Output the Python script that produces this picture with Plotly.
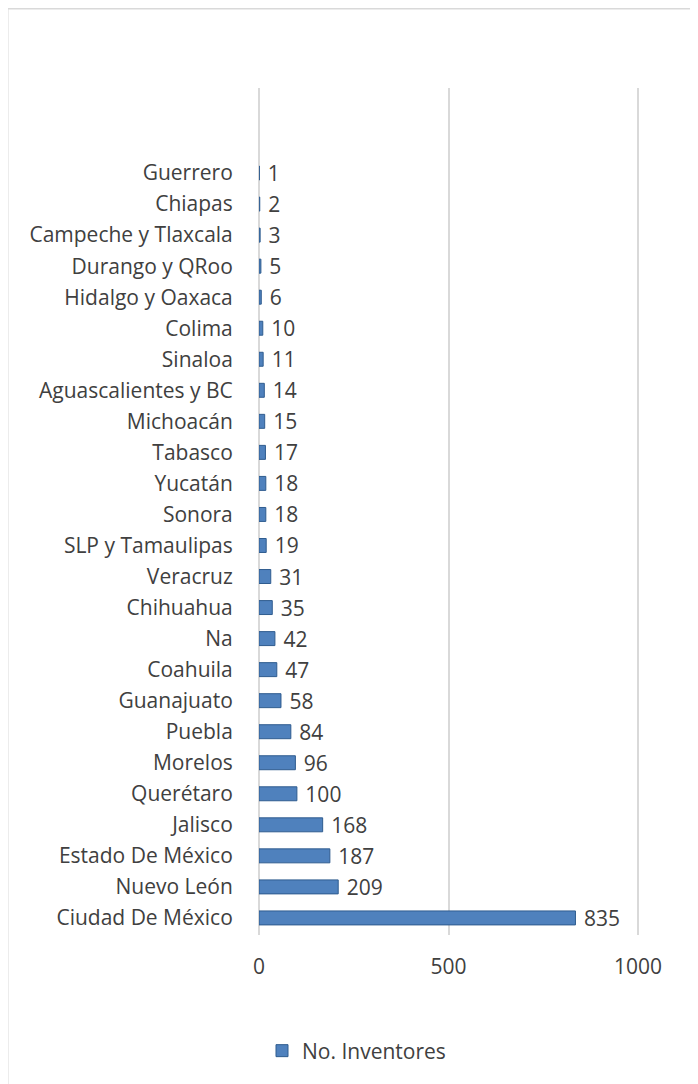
import plotly.graph_objects as go

categories = ["Ciudad De México", "Nuevo León", "Estado De México", "Jalisco", "Querétaro",
              "Morelos", "Puebla", "Guanajuato", "Coahuila", "Na", "Chihuahua", "Veracruz",
              "SLP y Tamaulipas", "Sonora", "Yucatán", "Tabasco", "Michoacán",
              "Aguascalientes y BC", "Sinaloa", "Colima", "Hidalgo y Oaxaca", "Durango y QRoo",
              "Campeche y Tlaxcala", "Chiapas", "Guerrero"]
values = [835, 209, 187, 168, 100, 96, 84, 58, 47, 42, 35, 31, 19, 18, 18, 17, 15, 14, 11, 10, 6, 5, 3, 2, 1]
series_name = "No. Inventores"
x_ticks = [0, 500, 1000]

# page has an 8px body margin: figure coords = page coords - 8
OFF = 8
W, H = 698, 1084
X0_PX, X1000_PX = 259, 638
XMAX = 1020
scale = (X1000_PX - X0_PX) / 1000.0
ml = X0_PX - OFF
mr = int(round(W - (X0_PX + XMAX * scale - OFF)))
XMAX = (W - mr + OFF - X0_PX) / scale
mt = 88 - OFF
mb = H - (935 - OFF)
PW = W - ml - mr
PH = H - mt - mb
font_family = "'Open Sans', sans-serif"
text_color = "#404040"
FS = 21


def px_x(p):
    return (p - OFF - ml) / PW


def px_y(p):
    return (H - mb - (p - OFF)) / PH


fig = go.Figure()
fig.add_trace(go.Bar(
    y=categories, x=values, orientation="h", name=series_name,
    marker=dict(color="#4F81BD", line=dict(color="#2F5C8F", width=1)),
    text=[" " + str(v) for v in values], textposition="outside", cliponaxis=False,
    constraintext="none",
    textfont=dict(size=FS, color=text_color, family=font_family),
    showlegend=True,
))

fig.update_layout(
    width=W, height=H,
    margin=dict(l=ml, r=mr, t=mt, b=mb),
    paper_bgcolor="white", plot_bgcolor="white",
    font=dict(family=font_family, size=FS, color=text_color),
    bargap=0.55,
    xaxis=dict(range=[0, XMAX], tickvals=x_ticks, showgrid=True, gridcolor="#D9D9D9",
               gridwidth=2, zeroline=True, zerolinecolor="#D9D9D9", zerolinewidth=2,
               showline=False, ticks="outside", ticklen=13, tickcolor="rgba(0,0,0,0)",
               tickfont=dict(size=FS, color=text_color)),
    yaxis=dict(type="category", categoryorder="array", categoryarray=categories,
               range=[-0.55, 26.74], showgrid=False, showline=False, zeroline=False,
               ticks="outside", ticklen=21, tickcolor="rgba(0,0,0,0)",
               tickfont=dict(size=FS, color=text_color)),
    legend=dict(orientation="h", x=px_x(262), xanchor="left",
                y=px_y(1051), yanchor="middle",
                font=dict(size=FS, color=text_color), itemwidth=30),
    shapes=[
        dict(type="line", xref="paper", yref="paper",
             x0=px_x(7.5), x1=px_x(720), y0=px_y(8.5), y1=px_y(8.5),
             line=dict(color="#D9D9D9", width=2)),
        dict(type="line", xref="paper", yref="paper",
             x0=px_x(7.5), x1=px_x(7.5), y0=px_y(8.5), y1=px_y(1100),
             line=dict(color="#D9D9D9", width=2)),
    ],
)

fig.write_html("out.html")
